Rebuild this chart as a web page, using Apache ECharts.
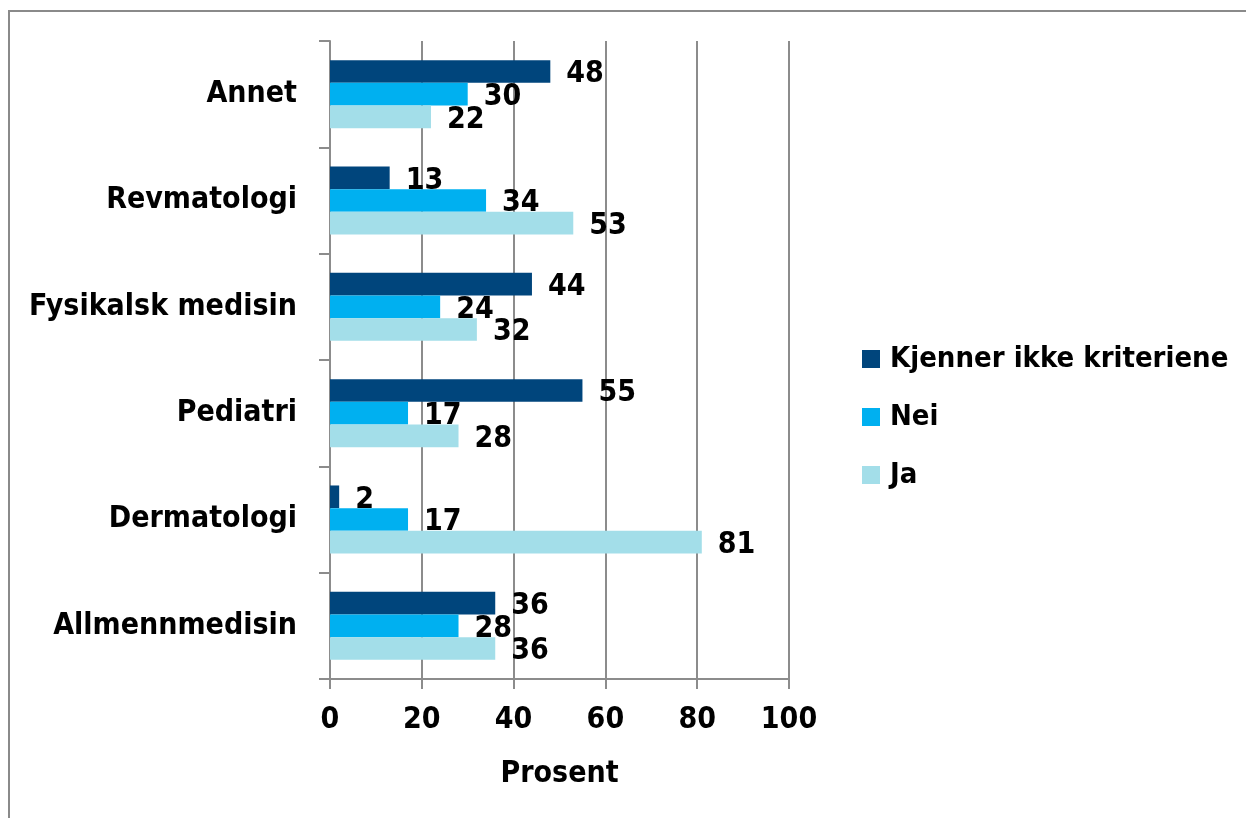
<!DOCTYPE html>
<html>
<head>
<meta charset="utf-8">
<script src="https://cdn.jsdelivr.net/npm/echarts@6/dist/echarts.min.js"></script>
<style>
html,body{margin:0;padding:0;background:#fff;}
#chart{width:1246px;height:818px;}
</style>
</head>
<body>
<div id="chart"></div>
<script>
const categories = ['Allmennmedisin','Dermatologi','Pediatri','Fysikalsk medisin','Revmatologi','Annet'];
const kjenner = [36, 2, 55, 44, 13, 48];
const nei = [28, 17, 17, 24, 34, 30];
const ja = [36, 81, 28, 32, 53, 22];
const seriesNames = ['Kjenner ikke kriteriene','Nei','Ja'];
const xTicks = [0, 20, 40, 60, 80, 100];

const FONT = '"DejaVu Sans Condensed", "DejaVu Sans", sans-serif';
const FS = 30;
const axisColor = '#8c8c8c';

const chart = echarts.init(document.getElementById('chart'));
const labelCfg = {show:true, position:'right', distance:16, offset:[0,3], color:'#000', fontFamily:FONT, fontWeight:'bold', fontSize:FS};
chart.setOption({
  animation:false,
  backgroundColor:'#fff',
  graphic:[{type:'rect', shape:{x:9, y:11, width:1400, height:1000}, style:{fill:'none', stroke:'#8a8a8a', lineWidth:2}, silent:true}],
  grid:{left:330, right:457, top:41, bottom:139, containLabel:false},
  legend:{
    orient:'vertical', left:857, top:338,
    data:seriesNames,
    icon:'rect', itemWidth:18, itemHeight:18, itemGap:26,
    textStyle:{color:'#000', fontFamily:FONT, fontWeight:'bold', fontSize:29, lineHeight:32, padding:[0,0,0,5]}
  },
  xAxis:{
    type:'value', min:xTicks[0], max:xTicks[xTicks.length-1], interval:20,
    name:'Prosent', nameLocation:'middle', nameGap:80,
    nameTextStyle:{color:'#000', fontFamily:FONT, fontWeight:'bold', fontSize:FS},
    axisLine:{show:true, lineStyle:{color:axisColor, width:2}},
    axisTick:{show:true, length:10, lineStyle:{color:axisColor, width:2}},
    axisLabel:{color:'#000', fontFamily:FONT, fontWeight:'bold', fontSize:FS, margin:26},
    splitLine:{show:true, lineStyle:{color:axisColor, width:2}}
  },
  yAxis:{
    type:'category', data:categories,
    axisLine:{show:true, lineStyle:{color:axisColor, width:2}},
    axisTick:{show:true, length:11, alignWithLabel:false, lineStyle:{color:axisColor, width:2}},
    axisLabel:{color:'#000', fontFamily:FONT, fontWeight:'bold', fontSize:FS, margin:33},
    splitLine:{show:false}
  },
  series:[
    {name:'Kjenner ikke kriteriene', type:'bar', data:kjenner, itemStyle:{color:'#00457c'}, barGap:'0%', barCategoryGap:'36%', label:labelCfg},
    {name:'Nei', type:'bar', data:nei, itemStyle:{color:'#00b0f0'}, barGap:'0%', barCategoryGap:'36%', label:labelCfg},
    {name:'Ja', type:'bar', data:ja, itemStyle:{color:'#a3dee9'}, barGap:'0%', barCategoryGap:'36%', label:labelCfg}
  ]
});
</script>
</body>
</html>
